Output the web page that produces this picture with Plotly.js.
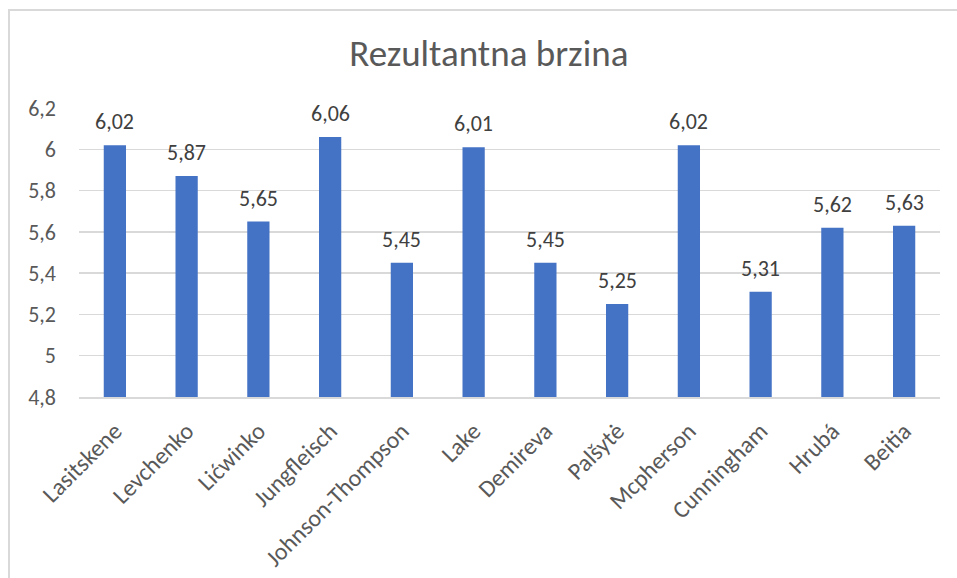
<!DOCTYPE html>
<html>
<head>
<meta charset="utf-8">
<script src="https://cdn.plot.ly/plotly-3.0.1.min.js"></script>
<style>
  html, body { margin: 0; padding: 0; background: #fff; }
  #wrap { position: relative; width: 957px; height: 578px; overflow: hidden; }
  #chart { width: 957px; height: 578px; }
  #frame { position: absolute; left: 8px; top: 9px; width: 980px; height: 600px;
           border-left: 2px solid #D9D9D9; border-top: 2px solid #D9D9D9; pointer-events: none; }
</style>
</head>
<body>
<div id="wrap">
  <div id="chart"></div>
  <div id="frame"></div>
</div>
<script>
const categories = ["Lasitskene", "Levchenko", "Lićwinko", "Jungfleisch", "Johnson-Thompson", "Lake",
                    "Demireva", "Palšytė", "Mcpherson", "Cunningham", "Hrubá", "Beitia"];
const values = [6.02, 5.87, 5.65, 6.06, 5.45, 6.01, 5.45, 5.25, 6.02, 5.31, 5.62, 5.63];
const chartTitle = "Rezultantna brzina";

const FONT = "Calibri, Carlito, Lato, sans-serif";
const TXT = "#595959";

const labels = values.map(v => v.toFixed(2).replace(".", ","));

const trace = {
  type: "bar",
  x: categories,
  y: values,
  marker: { color: "#4472C4" },
  hoverinfo: "x+y"
};

const annotations = categories.map((c, i) => ({
  x: c, y: values[i], xref: "x", yref: "y",
  text: labels[i], showarrow: false,
  yanchor: "bottom", yshift: 8,
  font: { family: FONT, size: 22, color: "#404040" }
}));

const layout = {
  width: 957, height: 578,
  margin: { l: 79, r: 17, t: 108, b: 181 },
  paper_bgcolor: "#fff", plot_bgcolor: "#fff",
  separators: ",.",
  bargap: 0.69,
  showlegend: false,
  title: {
    text: chartTitle,
    x: 0.476, xanchor: "center", xref: "paper",
    y: 0.908, yanchor: "middle",
    font: { family: FONT, size: 37, color: TXT }
  },
  xaxis: {
    type: "category",
    tickangle: -45,
    showgrid: false,
    showline: true, linecolor: "#D9D9D9", linewidth: 1.5,
    ticks: "", ticklabelstandoff: 9,
    tickfont: { family: FONT, size: 24, color: TXT },
    fixedrange: true
  },
  yaxis: {
    range: [4.8, 6.2],
    dtick: 0.2, tick0: 4.8,
    showgrid: true, gridcolor: "#D9D9D9", gridwidth: 1.5,
    zeroline: false, showline: false,
    ticks: "", ticklabelstandoff: 22,
    tickfont: { family: FONT, size: 22, color: TXT },
    fixedrange: true
  },
  annotations: annotations
};

Plotly.newPlot("chart", [trace], layout, { displayModeBar: false, staticPlot: true });
</script>
</body>
</html>
